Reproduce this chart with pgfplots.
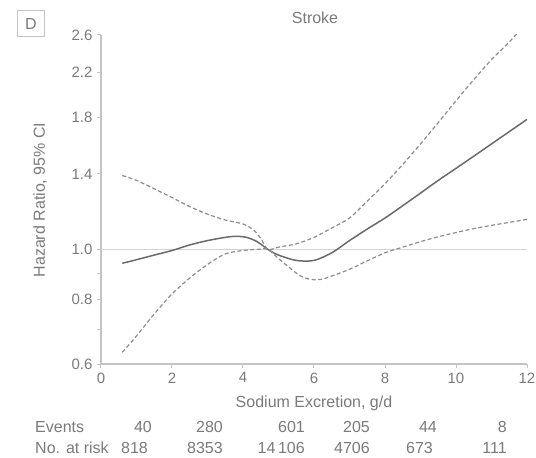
\documentclass[border=0pt]{standalone}
\usepackage{pgfplots}
\pgfplotsset{compat=1.18}
\usepackage{fontspec}
\setmainfont{Liberation Sans}
\definecolor{txt}{HTML}{7A7A7A}
\definecolor{axc}{HTML}{C4C4C4}
\definecolor{hrc}{HTML}{6A6A6A}
\definecolor{cic}{HTML}{8C8C8C}
\definecolor{refc}{HTML}{D4D4D4}
\begin{document}
\begin{tikzpicture}
\begin{axis}[name=ax, at={(0,0)}, anchor=south west, scale only axis,
  width=426pt, height=329pt,
  xmin=0, xmax=12, ymin=0.6, ymax=2.6, ymode=log,
  axis lines*=left, axis line style={axc, line width=1.5pt},
  xtick={0,2,...,12},
  ytick={0.6,0.8,1.0,1.4,1.8,2.2,2.6},
  yticklabels={0.6,0.8,1.0,1.4,1.8,2.2,2.6},
  minor ytick={0.7,0.9},
  tick align=outside, major tick length=4pt, minor tick length=4pt,
  every tick/.style={axc, line width=1pt},
  every tick label/.append style={font=\fontsize{15}{18}\selectfont, text=txt},
  /pgf/number format/assume math mode=true,
  xticklabel style={yshift=-1pt},
  yticklabel style={xshift=-1pt},
]
\addplot[refc, line width=1.2pt] coordinates {(0,1) (12,1)};
% hazard ratio
\addplot[hrc, line width=1.5pt, smooth, tension=0.5] coordinates {
(0.6,0.94) (1.0,0.955) (1.5,0.975) (2.0,0.995) (2.5,1.02) (3.0,1.04) (3.5,1.055)
(3.8,1.06) (4.1,1.055) (4.4,1.035) (4.7,1.0) (5.0,0.975) (5.5,0.952) (6.0,0.952)
(6.5,0.985) (7.0,1.04) (7.5,1.095) (8.0,1.15) (8.5,1.215) (9.0,1.285) (9.5,1.36)
(10.0,1.435) (10.5,1.515) (11.0,1.60) (11.5,1.69) (12.0,1.785)};
% upper CI
\addplot[cic, line width=1.2pt, dash pattern=on 4pt off 2.5pt, smooth, tension=0.5] coordinates {
(0.6,1.39) (1.0,1.36) (1.5,1.31) (2.0,1.26) (2.5,1.21) (3.0,1.17) (3.5,1.14)
(4.0,1.12) (4.3,1.09) (4.5,1.05) (4.7,1.0) (5.0,1.01) (5.5,1.025) (6.0,1.055)
(6.5,1.10) (7.0,1.15) (7.5,1.24) (8.0,1.34) (8.5,1.46) (9.0,1.60) (9.5,1.76)
(10.0,1.94) (10.5,2.13) (11.0,2.33) (11.5,2.52) (12.0,2.75)};
% lower CI
\addplot[cic, line width=1.2pt, dash pattern=on 4pt off 2.5pt, smooth, tension=0.5] coordinates {
(0.6,0.632) (1.0,0.68) (1.5,0.75) (2.0,0.82) (2.5,0.88) (3.0,0.935) (3.5,0.98)
(4.0,0.995) (4.4,1.0) (4.7,1.0) (5.0,0.96) (5.3,0.923) (5.6,0.89) (5.9,0.875)
(6.2,0.875) (6.5,0.888) (7.0,0.915) (7.5,0.95) (8.0,0.985) (8.5,1.01) (9.0,1.035)
(9.5,1.058) (10.0,1.078) (10.5,1.097) (11.0,1.113) (11.5,1.128) (12.0,1.143)};
\end{axis}
\begin{scope}[shift={(ax.south west)}, every node/.style={text=txt, font=\fontsize{16}{19}\selectfont, inner sep=0pt}]
\node[draw=axc, line width=1.2pt, minimum width=27pt, minimum height=26pt] at (-70pt,340.5pt) {D};
\node at (214pt,346pt) {Stroke};
\node at (213pt,-39pt) {Sodium Excretion, g/d};
\node[rotate=90] at (-61pt,164pt) {Hazard Ratio, 95\% CI};
\node[anchor=base west] at (-66pt,-69pt) {Events};
\node[anchor=base west] at (-66pt,-89pt) {No. at risk};
\node[anchor=base east] at (51pt,-69pt) {40};
\node[anchor=base east] at (122pt,-69pt) {280};
\node[anchor=base east] at (204pt,-69pt) {601};
\node[anchor=base east] at (269pt,-69pt) {205};
\node[anchor=base east] at (336pt,-69pt) {44};
\node[anchor=base east] at (406pt,-69pt) {8};
\node[anchor=base east] at (47pt,-89pt) {818};
\node[anchor=base east] at (122pt,-89pt) {8353};
\node[anchor=base east] at (204pt,-89pt) {14\,106};
\node[anchor=base east] at (269pt,-89pt) {4706};
\node[anchor=base east] at (332pt,-89pt) {673};
\node[anchor=base east] at (406pt,-89pt) {111};
\end{scope}
\pgfresetboundingbox
\useasboundingbox (-101pt,-94pt) rectangle (435pt,364pt);
\end{tikzpicture}
\end{document}
